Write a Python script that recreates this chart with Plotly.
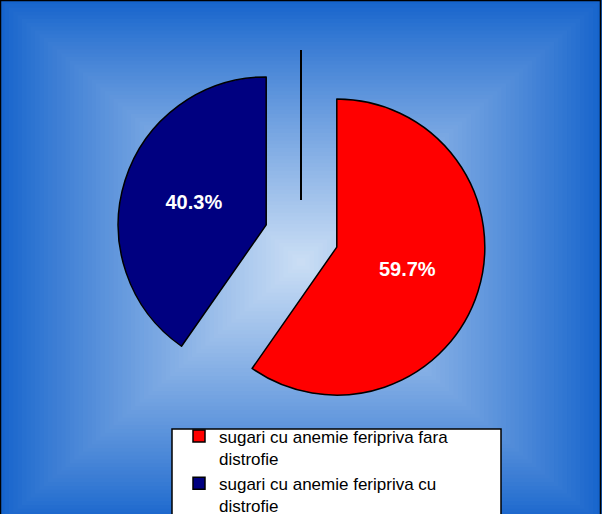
import plotly.graph_objects as go

labels = ["sugari cu anemie feripriva fara<br>distrofie",
          "sugari cu anemie feripriva cu<br>distrofie"]
values = [59.7, 40.3]
colors = ["#ff0000", "#000080"]
pulls = [0.25, 0.25]

W, H = 602, 514

fig = go.Figure()
fig.add_trace(go.Pie(
    labels=labels, values=values, sort=False, direction="clockwise", rotation=0,
    pull=pulls,
    marker=dict(colors=colors, line=dict(color="black", width=1.5)),
    texttemplate="%{percent:.1%}", textposition="inside",
    insidetextorientation="horizontal",
    textfont=dict(family="Liberation Sans, Arial", size=20, color="white", weight="bold"),
    domain=dict(x=[116.5 / W, 486.5 / W], y=[1 - 421 / H, 1 - 51 / H]),
    hoverinfo="label+percent",
))

# background: rectangular "from center" gradient via concentric rectangles
shapes = []
cx, cy = 301, 262
hw, hh = 301, 262
edge = (22, 100, 204)
center = (204, 223, 245)
N = 70
for i in range(N):
    t = i / (N - 1)  # 0 at edge, 1 at center
    s = 1 - t
    if s <= 0:
        break
    c = tuple(int(round(edge[k] + (center[k] - edge[k]) * (t ** 0.9))) for k in range(3))
    shapes.append(dict(type="rect", xref="paper", yref="paper",
                       x0=(cx - hw * s) / W, x1=(cx + hw * s) / W,
                       y0=1 - (cy + hh * s) / H, y1=1 - (cy - hh * s) / H,
                       fillcolor="rgb(%d,%d,%d)" % c, line=dict(width=0), layer="below"))
# outer border
shapes.append(dict(type="rect", xref="paper", yref="paper", x0=0.5 / W, x1=1 - 1.5 / W,
                   y0=-0.1, y1=1 - 0.5 / H, line=dict(color="black", width=1.5),
                   fillcolor="rgba(0,0,0,0)", layer="below"))
# stray vertical line
shapes.append(dict(type="line", xref="paper", yref="paper", x0=301 / W, x1=301 / W,
                   y0=1 - 50 / H, y1=1 - 200 / H, line=dict(color="black", width=2), layer="above"))
# legend box
shapes.append(dict(type="rect", xref="paper", yref="paper", x0=172 / W, x1=501 / W,
                   y0=-0.05, y1=1 - 429 / H, fillcolor="white",
                   line=dict(color="black", width=1.5), layer="below"))

fig.update_layout(
    width=W, height=H, margin=dict(l=0, r=0, t=0, b=0, autoexpand=False),
    paper_bgcolor="rgb(22,100,204)", plot_bgcolor="rgba(0,0,0,0)",
    shapes=shapes,
    showlegend=True,
    legend=dict(x=179 / W, y=1 - 418.5 / H, xanchor="left", yanchor="top",
                bgcolor="rgba(0,0,0,0)", borderwidth=0, valign="top",
                font=dict(family="Liberation Sans, Arial", size=17, color="black"),
                tracegroupgap=0, itemwidth=30),
)

fig.write_html("out.html", config={"displayModeBar": False},
               post_script="document.body.style.margin='0';document.body.style.overflow='hidden';")
